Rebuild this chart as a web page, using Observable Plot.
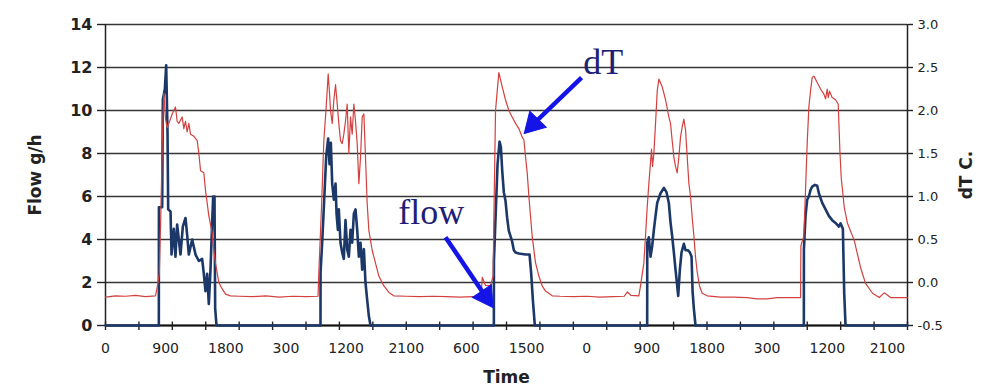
<!DOCTYPE html>
<html><head><meta charset="utf-8">
<script src="https://cdn.jsdelivr.net/npm/d3@7"></script>
<script src="https://cdn.jsdelivr.net/npm/@observablehq/plot@0.6"></script>
<style>body{margin:0;background:#fff} svg{display:block}</style>
</head><body><div id="chart"></div>
<script>
// time in hours from start (5 days), flow in g/h
const flowTime = [0, 7.98, 7.99, 8.48, 8.58, 8.88, 9.08, 9.28, 9.38, 9.73, 9.88, 10.22, 10.47, 10.72, 10.97, 11.22, 11.57, 11.97, 12.22, 12.47, 12.97, 13.47, 13.97, 14.46, 14.71, 14.96, 15.21, 15.46, 15.71, 15.96, 16.11, 16.31, 16.41, 16.61,
  32.17, 32.18, 32.42, 32.67, 33.02, 33.32, 33.52, 33.72, 33.92, 34.17, 34.42, 34.57, 34.77, 34.91, 35.16, 35.41, 35.66, 35.91, 36.16, 36.41, 36.66, 36.91, 37.16, 37.41, 37.66, 37.91, 38.16, 38.41, 38.66, 38.90, 39.15, 39.40, 39.65,
  58.11, 58.12, 58.36, 58.66, 58.96, 59.16, 59.36, 59.60, 59.85, 60.10, 60.35, 60.85, 61.10, 61.35, 61.85, 62.85, 63.45, 63.70, 63.94, 64.24,
  81.05, 81.06, 81.30, 81.55, 81.80, 82.05, 82.30, 82.55, 83.05, 83.55, 83.94, 84.29, 84.54, 84.79, 85.04, 85.29, 85.54, 85.69, 85.94, 86.19, 86.54, 86.79, 87.14, 87.44, 87.69, 87.84, 88.03, 88.28,
  104.49, 104.50, 104.74, 104.99, 105.24, 105.49, 105.74, 106.14, 106.49, 106.74, 107.24, 107.74, 108.23, 108.73, 109.23, 109.73, 109.98, 110.33, 110.53, 110.73, 120];
const flowValue = [0, 0, 5.5, 5.5, 10.5, 11.0, 12.1, 9.0, 5.4, 5.3, 3.3, 4.5, 3.2, 4.7, 4.0, 3.3, 4.6, 5.0, 4.2, 3.3, 4.0, 3.3, 3.0, 3.1, 2.4, 1.6, 2.4, 1.0, 2.6, 4.8, 6.0, 6.0, 0.8, 0,
  0, 2.5, 3.85, 5.5, 7.85, 8.7, 7.5, 8.5, 6.6, 5.85, 6.6, 5.2, 4.45, 5.4, 3.85, 3.4, 3.1, 4.9, 3.55, 3.2, 4.45, 3.85, 5.2, 5.4, 4.45, 3.2, 3.85, 2.6, 3.55, 2.0, 1.2, 0.45, 0,
  0, 3.0, 5.0, 7.5, 8.55, 8.3, 7.2, 6.2, 5.8, 5.0, 4.4, 3.9, 3.5, 3.4, 3.35, 3.3, 3.3, 2.4, 1.2, 0,
  0, 3.85, 4.1, 3.2, 3.7, 4.45, 5.1, 5.7, 6.15, 6.4, 6.2, 5.7, 4.8, 4.15, 3.4, 2.6, 1.85, 1.38, 2.6, 3.4, 3.8, 3.5, 3.5, 3.4, 3.2, 1.6, 0.8, 0,
  0, 3.54, 5.1, 5.85, 6.0, 6.3, 6.46, 6.54, 6.5, 6.15, 5.7, 5.4, 5.1, 4.9, 4.77, 4.6, 4.75, 4.5, 1.5, 0, 0];

// dT in degrees C
const dTTime = [0, 1.5, 3, 4.5, 6, 7.48,
  7.75, 8.05, 8.3, 8.5, 8.73, 8.98, 9.23, 9.48, 9.98, 10.47, 10.72, 10.97, 11.47, 11.72, 11.97, 12.22, 12.47, 12.72, 13.22, 13.72, 13.97, 14.22, 14.71, 14.96, 15.21, 15.46, 15.96, 16.21, 16.46, 16.96, 17.46, 17.96, 18.7,
  20, 22, 24, 26, 28, 30, 31.8,
  31.92, 32.32, 32.67, 33.02, 33.32, 33.52, 33.67, 33.92, 34.17, 34.42, 34.67, 34.91, 35.16, 35.41, 35.66, 35.91, 36.16, 36.41, 36.66, 36.91, 37.16, 37.41, 37.66, 37.91, 38.16, 38.41, 38.66, 38.90, 39.15, 39.40, 39.90, 40.40, 40.90, 41.65, 42.40, 43.14,
  45, 47, 49, 51, 53, 55, 56.2,
  56.37, 56.87, 57.6, 58.0, 58.11, 58.36, 58.61, 58.86, 59.36, 59.85, 60.35, 60.85, 61.35, 61.85, 62.35, 62.60, 62.85, 63.10, 63.35, 63.59, 63.84, 64.09, 64.34, 64.84, 65.34, 65.84, 66.84,
  68, 70, 72, 74, 76, 77.6, 78.1, 78.6, 79.8,
  80.05, 80.55, 80.80, 81.05, 81.30, 81.55, 81.70, 81.85, 82.05, 82.30, 82.55, 82.80, 83.30, 83.80, 84.29, 84.54, 84.79, 85.04, 85.29, 85.54, 85.79, 86.04, 86.29, 86.54, 86.79, 87.04, 87.29, 87.54, 87.79, 88.03, 88.28, 88.53, 88.88, 89.28, 90.03,
  92, 94, 96, 97.5, 99, 100.5, 102, 104.0,
  104.05, 104.49, 104.74, 104.99, 105.24, 105.49, 105.74, 105.99, 106.49, 106.99, 107.49, 107.74, 107.99, 108.14, 108.34, 108.73, 109.23, 109.63, 109.9, 110.1, 110.28, 110.53, 111.03, 112.03, 112.97, 113.72, 114.77, 115.77, 116.52, 117.47, 120];
const dTValue = [-0.17, -0.155, -0.16, -0.15, -0.165, -0.155,
  -0.05, 0.1, 0.85, 1.65, 2.2, 1.9, 1.8, 1.85, 1.96, 2.04, 1.875, 1.85, 1.925, 1.79, 1.875, 1.75, 1.85, 1.725, 1.7, 1.65, 1.5, 1.3, 1.275, 1.075, 0.925, 0.775, 0.575, 0.375, 0.225, 0.0, -0.075, -0.135, -0.155,
  -0.16, -0.165, -0.155, -0.17, -0.16, -0.165, -0.16,
  0.115, 0.875, 1.65, 2.04, 2.425, 2.2, 2.0, 1.85, 2.125, 2.3, 2.075, 1.85, 1.65, 1.615, 1.725, 1.875, 2.075, 1.5, 1.925, 1.725, 2.075, 1.875, 1.615, 1.15, 1.46, 1.925, 1.96, 1.46, 0.925, 0.61, 0.375, 0.225, 0.075, -0.04, -0.115, -0.155,
  -0.16, -0.165, -0.16, -0.165, -0.17, -0.165, -0.16,
  0.06, -0.035, -0.035, 0.075, 0.75, 2.0, 2.225, 2.44, 2.275, 2.125, 2.0, 1.925, 1.85, 1.79, 1.69, 1.66, 1.46, 1.275, 1.0, 0.775, 0.54, 0.385, 0.23, 0.075, -0.04, -0.1, -0.155,
  -0.16, -0.165, -0.16, -0.17, -0.165, -0.16, -0.11, -0.15, -0.155,
  -0.04, 0.225, 0.54, 0.875, 1.15, 1.4, 1.55, 1.35, 1.5, 1.85, 2.225, 2.365, 2.275, 2.125, 1.925, 1.85, 1.65, 1.46, 1.35, 1.275, 1.46, 1.69, 1.81, 1.9, 1.775, 1.46, 1.15, 1.0, 0.75, 0.55, 0.3, 0.125, -0.04, -0.125, -0.155,
  -0.17, -0.17, -0.175, -0.19, -0.19, -0.175, -0.175, -0.175,
  0.425, 0.54, 1.075, 1.615, 2.04, 2.225, 2.385, 2.4, 2.325, 2.25, 2.19, 2.135, 2.25, 2.15, 2.225, 2.15, 2.125, 2.075, 1.5, 1.2, 1.075, 0.875, 0.685, 0.49, 0.175, -0.01, -0.125, -0.175, -0.12, -0.175, -0.175];

const flowTicks = [0, 2, 4, 6, 8, 10, 12, 14];
const dTTicks = [-0.5, 0, 0.5, 1.0, 1.5, 2.0, 2.5, 3.0];
const tickHours = [0, 5, 10, 15, 20, 25, 30, 35, 40, 45, 50, 55, 60, 65, 70, 75, 80, 85, 90, 95, 100, 105, 110, 115, 120];
const labelHours = [0, 9, 18, 27, 36, 45, 54, 63, 72, 81, 90, 99, 108, 117];
const xLabels = ["0", "900", "1800", "300", "1200", "2100", "600", "1500", "0", "900", "1800", "300", "1200", "2100"];

// annotations (data coordinates: hours, g/h)
const annoText = ["dT", "flow"];
const annoX = [71.5, 43.8];
const annoY = [11.72, 4.74];
const arrowX1 = [71.23, 50.87], arrowY1 = [11.53, 4.11];
const arrowX2 = [62.55, 58.1], arrowY2 = [8.93, 0.78];
const arrowHeadTurn = [224, 146]; // direction of each arrowhead, degrees clockwise from up

// dT axis is tied to the flow axis: 14 g/h <-> 3.0 C, 0 g/h <-> -0.5 C
const toFlow = d => (d + 0.5) * 4;
const fromFlow = f => f / 4 - 0.5;

const flowRows = flowTime.map((t, i) => ({t, v: flowValue[i]}));
const dTRows = dTTime.map((t, i) => ({t, v: dTValue[i]}));
const annoRows = annoText.map((text, i) => ({text, x: annoX[i], y: annoY[i]}));
const back = 0.17; // arrowhead centre sits this fraction back from the tip
const arrowRows = arrowX1.map((x1, i) => {
  const x2 = arrowX2[i], y2 = arrowY2[i], y1 = arrowY1[i];
  return {x1, y1, hx: x2 + (x1 - x2) * back, hy: y2 + (y1 - y2) * back, rot: arrowHeadTurn[i]};
});

const arrowBlue = "#1414e6";

const chart = Plot.plot({
  width: 987, height: 391,
  marginTop: 24, marginRight: 80, marginBottom: 66, marginLeft: 105,
  x: {domain: [0, 120], axis: null},
  y: {domain: [0, 14], axis: null},
  style: {fontFamily: "DejaVu Sans", background: "#fff", color: "#222", overflow: "visible"},
  marks: [
    Plot.ruleY(flowTicks, {stroke: "#353535", strokeWidth: 1.3}),
    Plot.ruleX([0, 120], {stroke: "#222", strokeWidth: 1.5}),
    Plot.ruleY([0], {stroke: "#111", strokeWidth: 1.8}),
    Plot.axisY(flowTicks, {anchor: "left", tickSize: 8, tickPadding: 5, fontSize: 16, fontWeight: "bold", stroke: "#222", strokeWidth: 1.4, label: null}),
    Plot.axisY(dTTicks.map(toFlow), {anchor: "right", tickSize: 5, tickPadding: 5, fontSize: 13, stroke: "#222", strokeWidth: 1.4, tickFormat: f => fromFlow(f).toFixed(1), label: null}),
    Plot.axisX(tickHours, {anchor: "bottom", tickSize: 5, stroke: "#222", strokeWidth: 1.4, tickFormat: () => "", label: null}),
    Plot.ruleX(tickHours, {y1: 0, y2: 0.16, stroke: "#222", strokeWidth: 1.4}),
    Plot.axisX(labelHours, {anchor: "bottom", tickSize: 0, tickPadding: 18, fontSize: 14, tickFormat: d => xLabels[labelHours.indexOf(d)], label: null}),
    Plot.line(flowRows, {x: "t", y: "v", stroke: "#1c3868", strokeWidth: 2.6, strokeLinejoin: "round"}),
    Plot.line(dTRows, {x: "t", y: d => toFlow(d.v), stroke: "#d2413f", strokeWidth: 1.2}),
    Plot.link(arrowRows, {x1: "x1", y1: "y1", x2: "hx", y2: "hy", stroke: arrowBlue, strokeWidth: 4.5}),
    Plot.dot(arrowRows, {x: "hx", y: "hy", symbol: "triangle", r: 8.5, rotate: "rot", fill: arrowBlue, stroke: arrowBlue, strokeWidth: 1}),
    Plot.text(annoRows, {x: "x", y: "y", text: "text", fontFamily: "Liberation Serif", fontSize: 36, fill: "#1f1f78", textAnchor: "start", lineAnchor: "bottom"}),
    Plot.text(["Time"], {frameAnchor: "bottom", dy: 57, lineAnchor: "bottom", textAnchor: "middle", fontSize: 17, fontWeight: "bold", fill: "#222"}),
    Plot.text(["Flow g/h"], {frameAnchor: "left", dx: -70, rotate: -90, textAnchor: "middle", lineAnchor: "middle", fontSize: 17, fontWeight: "bold", fill: "#222"}),
    Plot.text(["dT C."], {frameAnchor: "right", dx: 59, rotate: -90, textAnchor: "middle", lineAnchor: "middle", fontSize: 17, fontWeight: "bold", fill: "#222"})
  ]
});
document.getElementById("chart").appendChild(chart);
</script>
</body></html>
